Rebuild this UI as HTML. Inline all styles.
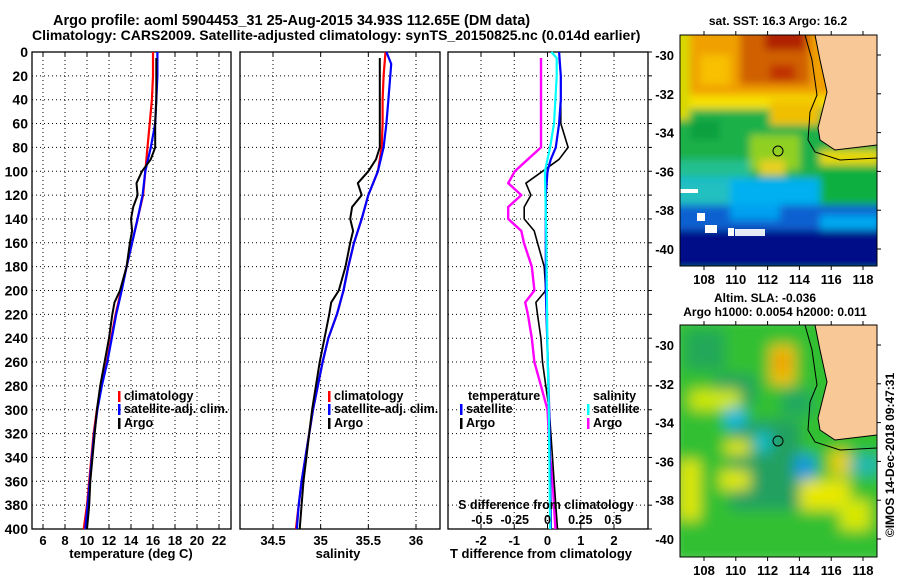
<!DOCTYPE html>
<html><head><meta charset="utf-8"><style>
html,body{margin:0;padding:0;background:#fff}
svg text{font-family:"Liberation Sans",sans-serif;font-weight:bold;fill:#000}
</style></head><body>
<svg id="c" width="900" height="580" viewBox="0 0 900 580" xmlns="http://www.w3.org/2000/svg">
<defs>
<filter id="bl" x="-5%" y="-5%" width="110%" height="110%"><feGaussianBlur stdDeviation="4"/></filter>
<filter id="bl2" x="-5%" y="-5%" width="110%" height="110%"><feGaussianBlur stdDeviation="7"/></filter>
<clipPath id="m1"><rect x="680" y="35" width="197" height="231"/></clipPath>
<clipPath id="m2"><rect x="680" y="325" width="197" height="232"/></clipPath>
</defs>
<text x="53" y="25" font-size="14.5">Argo profile: aoml 5904453_31 25-Aug-2015 34.93S 112.65E (DM data)</text>
<text x="32" y="40" font-size="14">Climatology: CARS2009. Satellite-adjusted climatology: synTS_20150825.nc (0.014d earlier)</text>

<g id="p1"></g>
<g id="p2"></g>
<g id="p3"></g>

<!-- SST map -->
<g>
<text x="778" y="25" font-size="12" text-anchor="middle">sat. SST: 16.3 Argo: 16.2</text>
<g clip-path="url(#m1)">
<g filter="url(#bl)">
<rect x="670" y="25" width="220" height="250" fill="#1fb04a"/>
<rect x="670" y="25" width="220" height="80" fill="#f0a000"/>
<rect x="670" y="95" width="220" height="14" fill="#f8e000"/>
<rect x="670" y="20" width="20" height="100" fill="#d8d800"/>
<rect x="700" y="55" width="30" height="30" fill="#f8c000"/>
<rect x="740" y="25" width="70" height="60" fill="#d06000"/>
<rect x="765" y="25" width="40" height="25" fill="#b02000"/>
<rect x="770" y="65" width="25" height="15" fill="#c03000"/>
<rect x="770" y="100" width="50" height="25" fill="#f0c000"/>
<rect x="690" y="120" width="30" height="20" fill="#10a040"/>
<rect x="750" y="135" width="50" height="35" fill="#90d020"/>
<rect x="760" y="160" width="25" height="15" fill="#e8d020"/>
<rect x="820" y="150" width="60" height="20" fill="#e8d800"/>
<rect x="820" y="165" width="60" height="55" fill="#10b040"/>
<rect x="670" y="160" width="80" height="20" fill="#20c090"/>
<rect x="670" y="178" width="150" height="30" fill="#00b0f0"/>
<rect x="670" y="180" width="60" height="25" fill="#20c0c0"/>
<rect x="670" y="205" width="220" height="30" fill="#1060d0"/>
<rect x="730" y="205" width="50" height="15" fill="#00a0f0"/>
<rect x="820" y="215" width="60" height="15" fill="#00a8f0"/>
<rect x="670" y="230" width="220" height="40" fill="#000a88"/>
</g>
<path d="M815,35 L820,60 L827,92 L822,112 L818,128 L820,140 L835,150 L877,145 L877,35 Z" fill="#f8c896" stroke="#000" stroke-width="1"/>
<path d="M805,35 L812,60 L817,95 L810,112 L808,140 L815,152 L840,160 L877,158" fill="none" stroke="#000" stroke-width="1"/>
<rect x="680" y="189" width="18" height="4" fill="#fff"/>
<rect x="697" y="213" width="8" height="8" fill="#fff"/>
<rect x="705" y="225" width="12" height="8" fill="#fff"/>
<rect x="728" y="228" width="6" height="8" fill="#fff"/>
<rect x="735" y="229" width="30" height="7" fill="#fff" opacity="0.9"/>
</g>
<circle cx="778" cy="151" r="5" fill="none" stroke="#000"/>
<rect x="680" y="35" width="197" height="231" fill="none" stroke="#000"/>
<g id="m1ax"></g>
</g>

<!-- SLA map -->
<g>
<text x="765" y="302" font-size="12" text-anchor="middle">Altim. SLA: -0.036</text>
<text x="775" y="316" font-size="12" text-anchor="middle">Argo h1000: 0.0054 h2000: 0.011</text>
<g clip-path="url(#m2)">
<g filter="url(#bl2)">
<rect x="670" y="315" width="220" height="250" fill="#30c030"/>
<rect x="685" y="330" width="40" height="40" fill="#20a858"/>
<rect x="715" y="375" width="40" height="30" fill="#20a060"/>
<rect x="730" y="420" width="70" height="90" fill="#20a060"/>
<rect x="690" y="390" width="50" height="20" fill="#d0e800"/>
<rect x="770" y="345" width="25" height="40" fill="#f0c000"/>
<rect x="776" y="355" width="12" height="16" fill="#f09000"/>
<rect x="725" y="440" width="25" height="15" fill="#e0e800"/>
<rect x="680" y="460" width="20" height="60" fill="#e0e800"/>
<rect x="720" y="470" width="30" height="20" fill="#e0e800"/>
<rect x="800" y="480" width="50" height="30" fill="#e8e800"/>
<rect x="830" y="450" width="20" height="25" fill="#e8d000"/>
<rect x="840" y="500" width="30" height="30" fill="#d8e800"/>
<rect x="725" y="408" width="20" height="20" fill="#10b8e0"/>
<rect x="755" y="432" width="15" height="20" fill="#10c0d0"/>
<rect x="795" y="455" width="20" height="25" fill="#1098e0"/>
<rect x="850" y="455" width="30" height="20" fill="#20b8b0"/>
<rect x="782" y="390" width="30" height="25" fill="#20a860"/>
</g>
<path d="M815,325 L820,350 L827,382 L822,402 L818,418 L820,430 L835,440 L877,435 L877,325 Z" fill="#f8c896" stroke="#000" stroke-width="1"/>
<path d="M805,325 L812,350 L817,385 L810,402 L808,430 L815,442 L840,450 L877,448" fill="none" stroke="#000" stroke-width="1"/>
</g>
<circle cx="778" cy="441" r="5" fill="none" stroke="#000"/>
<rect x="680" y="325" width="197" height="232" fill="none" stroke="#000"/>
<g id="m2ax"></g>
</g>
<text transform="translate(894,455) rotate(-90)" font-size="12" font-weight="normal" text-anchor="middle">©IMOS 14-Dec-2018 09:47:31</text>
</svg>
<script>
// ---- data ----
const depthTicks = [0,20,40,60,80,100,120,140,160,180,200,220,240,260,280,300,320,340,360,380,400];
const tempTicks = [6,8,10,12,14,16,18,20,22];
const salTicks = [34.5,35,35.5,36];
const salTickLabels = ['34.5','35','35.5','36'];
const tdiffTicks = [-2,-1,0,1,2];
const sdiffTicks = [-0.5,-0.25,0,0.25,0.5];
const sdiffTickLabels = ['-0.5','-0.25','0','0.25','0.5'];

const climDepth = [0,20,40,60,80,100,120,140,160,180,200,220,240,260,280,300,320,340,360,380,400];
const climTemp = [16.0,16.0,15.9,15.7,15.5,15.3,15.1,14.6,14.1,13.6,13.1,12.6,12.2,11.8,11.3,10.9,10.6,10.4,10.2,10.0,9.7];
const satDepth = [0,20,40,60,80,100,120,140,160,180,200,220,240,260,280,300,320,340,360,380,400];
const satTemp = [16.4,16.4,16.3,16.2,15.8,15.3,15.05,14.6,14.1,13.6,13.15,12.65,12.25,11.85,11.35,10.95,10.65,10.45,10.25,10.05,9.85];
const argoDepth = [5,20,40,60,80,90,100,110,120,130,140,150,160,180,200,210,220,240,260,280,300,320,340,360,380,400];
const argoTemp = [16.3,16.3,16.3,16.2,16.2,15.8,15.0,14.5,14.6,14.2,14.0,14.1,13.9,13.6,13.0,12.5,12.3,12.0,11.6,11.2,10.9,10.7,10.5,10.3,10.2,10.0];

const climSal = [35.68,35.66,35.65,35.65,35.64,35.6,35.5,35.43,35.35,35.29,35.24,35.17,35.08,35.02,34.97,34.92,34.88,34.84,34.8,34.77,34.74];
const satSalDepth = [0,10,20,40,60,80,100,120,140,160,180,200,220,240,260,280,300,320,340,360,380,400];
const satSal = [35.69,35.74,35.73,35.71,35.69,35.66,35.6,35.5,35.43,35.35,35.29,35.24,35.17,35.08,35.02,34.97,34.92,34.88,34.84,34.8,34.77,34.75];
const argoSal = [35.62,35.62,35.62,35.62,35.62,35.58,35.5,35.39,35.43,35.33,35.31,35.34,35.31,35.26,35.19,35.11,35.09,35.04,34.99,34.95,34.91,34.88,34.85,34.82,34.8,34.78];

const tDiffDepth = [0,20,40,60,80,90,100,120,160,200,250,300,350,400];
const satTDiff = [0.35,0.4,0.4,0.35,0.25,0.1,0.0,-0.05,-0.05,-0.05,0.0,0.05,0.08,0.1];
const argoTDiff = [0.35,0.4,0.4,0.4,0.62,0.35,-0.15,-0.65,-0.5,-0.7,-0.7,-0.4,-0.3,-0.1,-0.05,-0.35,-0.3,-0.2,-0.15,-0.05,0.05,0.15,0.2,0.25,0.3];
const argoTDiffDepth = [5,20,40,60,80,90,100,110,120,130,140,150,160,180,200,210,220,240,260,280,300,340,360,380,400];
const argoSDiff = [-0.05,-0.05,-0.05,-0.05,-0.05,-0.15,-0.25,-0.3,-0.2,-0.3,-0.3,-0.2,-0.18,-0.12,-0.1,-0.17,-0.15,-0.12,-0.1,-0.05,0.0,0.02,0.04,0.05,0.06];
const satSDiffDepth = [0,5,20,40,60,80,100,150,250,300,400];
const satSDiff = [0.03,0.07,0.07,0.06,0.05,0.02,-0.02,-0.01,0.0,0.01,0.02];

// ---- helpers ----
const NS='http://www.w3.org/2000/svg';
function mk(parent,tag,attrs,txt){const e=document.createElementNS(NS,tag);for(const k in attrs)e.setAttribute(k,attrs[k]);if(txt!==undefined)e.textContent=txt;parent.appendChild(e);return e;}
const Y0=52,Y1=529;
const yD=d=>Y0+(d/400)*(Y1-Y0);
function lin(d0,d1,r0,r1){return v=>r0+(v-d0)/(d1-d0)*(r1-r0);}

function panel(g,x0,x1,xs,ticks,labels,grid){
  const f=mk(g,'rect',{x:x0,y:Y0,width:x1-x0,height:Y1-Y0,fill:'none',stroke:'#000','stroke-width':1.3});
  
  
  depthTicks.forEach(d=>{if(d>0&&d<400){const l=mk(g,'line',{x1:x0,x2:x1,y1:yD(d),y2:yD(d),stroke:'#000','stroke-dasharray':'1,3'});
    
    }});
  ticks.forEach((t,i)=>{const x=xs(t);
    if(grid){const l=mk(g,'line',{x1:x,x2:x,y1:Y0,y2:Y1,stroke:'#000','stroke-dasharray':'1,3'});
      
      }
    mk(g,'line',{x1:x,x2:x,y1:Y1,y2:Y1-4,stroke:'#000'});
    mk(g,'line',{x1:x,x2:x,y1:Y0,y2:Y0+4,stroke:'#000'});
    const tx=mk(g,'text',{x:x,y:Y1+16,'font-size':13,'text-anchor':'middle'},labels[i]);
    
    
  });
}
function line(g,xs,vals,deps,color,w,name){
  const pts=vals.map((v,i)=>xs(v).toFixed(1)+','+yD(deps[i]).toFixed(1)).join(' ');
  const p=mk(g,'polyline',{points:pts,fill:'none',stroke:color,'stroke-width':w,'stroke-linejoin':'round'});
  
  
}
function legend(g,x,y,color,label){
  mk(g,'rect',{x:x,y:y-9,width:2.5,height:11,fill:color});
  const t=mk(g,'text',{x:x+6,y:y,'font-size':12.5},label);
  
  
}

// panel 1
const g1=document.getElementById('p1');
const xT=lin(6,22,43,219);
panel(g1,32,231,xT,tempTicks,tempTicks.map(String),true);
depthTicks.forEach(d=>{const t=mk(g1,'text',{x:28,y:yD(d)+5,'font-size':14,'text-anchor':'end'},String(d));
  
  });
line(g1,xT,climTemp,climDepth,'#f00',2.2,'temp-climatology-line');
line(g1,xT,satTemp,satDepth,'#00f',2.2,'temp-satellite-line');
line(g1,xT,argoTemp,argoDepth,'#000',2,'temp-argo-line');
legend(g1,118,400,'#f00','climatology');legend(g1,118,413,'#00f','satellite-adj. clim.');legend(g1,118,427,'#000','Argo');
let t=mk(g1,'text',{x:131,y:558,'font-size':13,'text-anchor':'middle'},'temperature (deg C)');



// panel 2
const g2=document.getElementById('p2');
const xS=lin(34.5,36,273,416);
panel(g2,240,440,xS,salTicks,salTickLabels,true);
line(g2,xS,climSal,climDepth,'#f00',2.2,'sal-climatology-line');
line(g2,xS,satSal,satSalDepth,'#00f',2.2,'sal-satellite-line');
line(g2,xS,argoSal,argoDepth,'#000',2,'sal-argo-line');
legend(g2,328,400,'#f00','climatology');legend(g2,328,413,'#00f','satellite-adj. clim.');legend(g2,328,427,'#000','Argo');
t=mk(g2,'text',{x:338,y:558,'font-size':13,'text-anchor':'middle'},'salinity');



// panel 3
const g3=document.getElementById('p3');
const xTD=lin(-2,2,481,614);
const xSD=lin(-0.5,0.5,482,613);
panel(g3,448,648,xTD,tdiffTicks,tdiffTicks.map(String),true);
depthTicks.forEach(d=>{mk(g3,'line',{x1:648,x2:652,y1:yD(d),y2:yD(d),stroke:'#000'});});
line(g3,xSD,argoSDiff,argoTDiffDepth,'#f0f',2.4,'sdiff-argo-line');
line(g3,xTD,argoTDiff,argoTDiffDepth,'#000',1.6,'tdiff-argo-line');
line(g3,xTD,satTDiff,tDiffDepth,'#00f',2.2,'tdiff-satellite-line');
line(g3,xSD,satSDiff,satSDiffDepth,'#0ff',2.2,'sdiff-satellite-line');
t=mk(g3,'text',{x:468,y:400,'font-size':12.5},'temperature');


t=mk(g3,'text',{x:593,y:400,'font-size':12.5},'salinity');


legend(g3,460,413,'#00f','satellite');legend(g3,460,427,'#000','Argo');
legend(g3,587,413,'#0ff','satellite');legend(g3,587,427,'#f0f','Argo');
t=mk(g3,'text',{x:546,y:509,'font-size':12.5,'text-anchor':'middle'},'S difference from climatology');


sdiffTicks.forEach((v,i)=>{const tx=mk(g3,'text',{x:xSD(v),y:524,'font-size':12.5,'text-anchor':'middle'},sdiffTickLabels[i]);
  
  });
t=mk(g3,'text',{x:541,y:558,'font-size':13,'text-anchor':'middle'},'T difference from climatology');



// map axes
const lonTicks=[108,110,112,114,116,118];
const latTicks=[-30,-32,-34,-36,-38,-40];
function mapAxes(id,top,bot,lat30){
  const g=document.getElementById(id);
  const xl=lin(108,118,704,863), yl=lin(-30,-40,lat30,lat30+194);
  lonTicks.forEach(v=>{mk(g,'line',{x1:xl(v),x2:xl(v),y1:top,y2:top-4,stroke:'#000'});
    mk(g,'line',{x1:xl(v),x2:xl(v),y1:bot,y2:bot+4,stroke:'#000'});
    const tx=mk(g,'text',{x:xl(v),y:bot+18,'font-size':13,'text-anchor':'middle'},String(v));
    
    });
  latTicks.forEach(v=>{mk(g,'line',{x1:877,x2:881,y1:yl(v),y2:yl(v),stroke:'#000'});
    const tx=mk(g,'text',{x:674,y:yl(v)+5,'font-size':13,'text-anchor':'end'},String(v));
    
    });
}
mapAxes('m1ax',35,266,55);
mapAxes('m2ax',325,557,345);
</script>
</body></html>
